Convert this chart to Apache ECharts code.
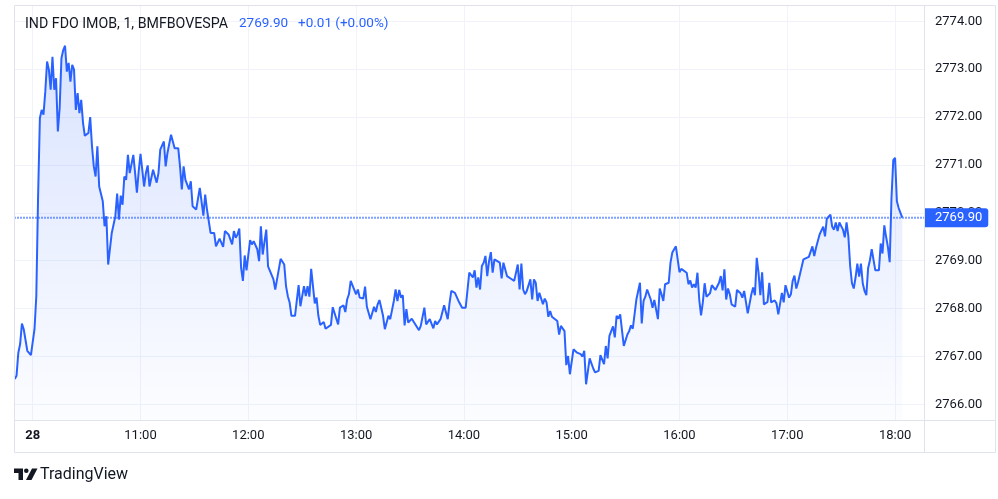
<!DOCTYPE html>
<html>
<head>
<meta charset="utf-8">
<script src="https://cdn.jsdelivr.net/npm/echarts@6.0.0/dist/echarts.min.js"></script>
<style>
html,body{margin:0;padding:0;background:#ffffff;}
#chart{width:998px;height:499px;}
</style>
</head>
<body>
<div id="chart"></div>
<script>
// minutes since midnight (1-minute bars, 28th)
const minutes = [
590,591,592,593,594,595,597,599,601,602,603,604,605,606,607,608,609,610,611,612,
613,614,615,616,617,618,619,620,621,622,623,624,625,626,627,628,629,631,632,633,
634,635,636,637,639,640,641,642,644,646,647,648,649,650,651,652,653,654,656,657,
658,659,660,662,663,664,665,666,667,669,670,671,673,674,675,676,677,679,681,682,
683,684,685,687,688,689,691,693,695,696,697,699,701,702,703,704,705,706,707,709,
711,712,713,714,715,716,717,718,719,721,722,723,725,726,727,728,730,731,732,734,
735,736,737,738,740,741,742,743,744,746,747,748,749,750,751,752,753,754,755,756,
757,758,759,760,761,762,763,766,767,768,770,771,773,774,775,776,777,778,780,781,
782,784,785,786,787,788,790,791,792,793,795,796,798,799,801,802,803,804,805,806,
807,808,809,811,813,815,816,818,819,820,821,823,824,825,827,828,829,831,832,833,
835,837,839,841,843,844,845,846,847,848,849,850,851,852,853,854,855,856,857,858,
860,861,862,863,864,866,867,868,870,871,872,873,874,875,877,878,879,880,881,882,
884,885,886,887,888,889,890,892,893,894,896,897,898,899,901,902,903,905,906,907,
908,910,911,912,913,915,916,918,919,920,921,923,924,925,926,927,928,929,931,932,
933,934,936,937,938,939,940,941,942,944,945,946,948,949,950,951,952,954,955,956,
957,958,959,960,961,962,964,965,966,967,968,969,970,971,972,973,974,975,976,977,
978,980,981,982,983,984,985,986,987,988,989,991,992,994,995,996,997,998,1000,1001,
1002,1003,1004,1005,1006,1007,1009,1010,1011,1013,1014,1015,1017,1018,1019,1021,1022,1023,1024,1025,
1026,1027,1029,1030,1032,1033,1034,1035,1036,1037,1038,1039,1040,1041,1042,1044,1045,1046,1047,1048,
1049,1050,1051,1052,1053,1054,1055,1056,1057,1058,1059,1060,1061,1062,1063,1064,1065,1066,1067,1068,
1069,1071,1072,1073,1074,1075,1076,1077,1078,1079,1080,1081,1082,1083,1084
];
const prices = [
2766.53,2766.60,2767.08,2767.26,2767.69,2767.57,2767.12,2767.03,2767.57,2768.26,2770.35,2771.98,2772.15,2772.05,2772.53,2773.16,2772.99,2772.57,2773.26,2772.57,
2772.81,2771.70,2772.19,2773.23,2773.40,2773.49,2772.95,2773.13,2772.74,2773.09,2772.99,2772.15,2772.50,2772.08,2772.36,2771.88,2771.61,2771.67,2772.00,2771.39,
2770.97,2770.76,2771.39,2770.55,2770.24,2769.72,2769.93,2768.92,2769.58,2769.93,2770.40,2769.86,2770.36,2770.17,2770.76,2770.69,2771.21,2770.83,2771.21,2770.83,
2770.42,2770.87,2771.23,2770.55,2770.83,2770.99,2770.55,2770.59,2770.90,2770.63,2770.83,2771.32,2771.49,2770.97,2771.25,2771.21,2771.63,2771.35,2771.35,2770.97,
2770.49,2770.97,2770.69,2770.49,2770.66,2770.14,2770.07,2770.52,2769.94,2770.38,2770.07,2769.58,2769.58,2769.30,2769.34,2769.46,2769.46,2769.29,2769.62,2769.55,
2769.34,2769.62,2769.48,2769.55,2769.67,2768.85,2768.58,2769.11,2768.80,2769.43,2769.34,2769.41,2769.24,2768.99,2769.72,2769.13,2769.65,2768.88,2768.88,2768.61,
2768.40,2768.61,2768.60,2769.04,2768.92,2768.47,2768.26,2768.13,2767.85,2767.85,2767.85,2768.49,2768.05,2768.26,2768.47,2768.26,2768.47,2768.25,2768.83,2768.82,
2768.11,2768.23,2767.85,2767.66,2767.67,2767.72,2767.58,2767.66,2768.03,2768.03,2767.67,2768.02,2768.07,2767.93,2768.19,2768.30,2768.58,2768.60,2768.30,2768.40,
2768.23,2768.21,2768.46,2768.04,2768.04,2767.78,2768.04,2767.93,2768.09,2768.18,2767.85,2767.57,2767.85,2767.78,2768.16,2768.40,2768.16,2768.39,2768.23,2768.28,
2767.65,2767.99,2767.71,2767.79,2767.67,2767.55,2767.64,2768.02,2767.67,2767.63,2767.78,2767.59,2767.74,2767.67,2767.78,2767.79,2768.07,2767.78,2768.11,2768.37,
2768.33,2768.16,2768.02,2768.02,2768.75,2768.76,2768.65,2768.80,2768.44,2768.65,2768.40,2768.89,2768.96,2769.10,2768.68,2768.99,2769.18,2768.75,2769.03,2769.06,
2768.96,2768.63,2768.96,2768.96,2768.68,2768.63,2768.61,2768.58,2768.92,2768.40,2768.94,2768.40,2768.30,2768.37,2768.61,2768.19,2768.61,2768.54,2768.16,2768.33,
2768.09,2768.21,2768.13,2767.83,2767.95,2767.83,2767.81,2767.74,2767.46,2767.64,2767.53,2766.82,2767.01,2766.63,2767.15,2767.12,2767.08,2767.05,2767.00,2767.12,
2766.42,2766.96,2767.00,2766.75,2766.67,2766.70,2767.03,2766.84,2767.22,2766.96,2767.43,2767.63,2767.40,2767.85,2767.79,2767.88,2767.92,2767.22,2767.46,2767.53,
2767.65,2767.58,2768.19,2768.23,2768.54,2767.69,2768.16,2768.25,2768.40,2768.19,2768.02,2768.18,2767.78,2768.42,2768.30,2768.16,2768.51,2768.54,2768.96,2769.17,
2769.15,2769.30,2769.03,2768.76,2768.83,2768.83,2768.75,2768.51,2768.59,2768.44,2768.51,2768.44,2768.75,2768.19,2767.86,2768.13,2768.53,2768.25,2768.21,2768.32,
2768.49,2768.39,2768.35,2768.54,2768.68,2768.38,2768.82,2768.19,2768.42,2768.30,2768.09,2768.04,2768.39,2768.32,2768.23,2768.37,2768.35,2767.90,2768.30,2768.44,
2768.28,2769.06,2768.75,2768.28,2768.76,2768.09,2768.14,2768.54,2768.13,2768.17,2768.11,2767.88,2768.33,2768.13,2768.49,2768.23,2768.30,2768.58,2768.69,2768.42,
2768.55,2768.51,2769.03,2769.06,2769.08,2769.06,2769.30,2769.10,2769.27,2769.41,2769.55,2769.51,2769.71,2769.51,2769.88,2769.96,2769.71,2769.65,2769.80,2769.62,
2769.80,2769.83,2769.65,2769.49,2769.80,2769.51,2768.89,2768.53,2768.42,2768.65,2768.94,2768.67,2768.94,2768.53,2768.37,2768.28,2768.85,2769.01,2769.24,2769.20,
2768.80,2768.80,2769.36,2769.15,2769.74,2769.50,2769.29,2768.97,2770.31,2771.10,2771.15,2770.24,2770.10,2770.08,2769.90
];
const xTickMinutes = [600, 660, 720, 780, 840, 900, 960, 1020, 1080];
const xTickLabels = ['28', '11:00', '12:00', '13:00', '14:00', '15:00', '16:00', '17:00', '18:00'];
const yTicks = [2766, 2767, 2768, 2769, 2770, 2771, 2772, 2773, 2774];
const lastPrice = 2769.90;
const titleText = 'IND FDO IMOB, 1, BMFBOVESPA';
const changeText = '+0.01 (+0.00%)';

const FONT = 'Roboto, "Noto Sans", "DejaVu Sans", sans-serif';
const TEXT = '#131722';
const BLUE = '#2962ff';
const BORDER = '#e0e3eb';
const GRIDC = '#f0f3fa';
const X_MIN = 589.59, X_MAX = 1096.1;

const chart = echarts.init(document.getElementById('chart'), null, {renderer: 'canvas'});
const option = {
  animation: false,
  backgroundColor: '#ffffff',
  color: [BLUE],
  grid: {left: 14, right: 74, top: 5, bottom: 78.3, containLabel: false},
  xAxis: {
    type: 'value',
    min: X_MIN,
    max: X_MAX,
    axisLine: {show: false},
    axisTick: {show: false, customValues: xTickMinutes},
    axisLabel: {
      customValues: xTickMinutes,
      margin: 9,
      color: TEXT,
      fontSize: 13,
      fontFamily: FONT,
      formatter: function (v) {
        const i = xTickMinutes.indexOf(v);
        if (i === 0) return '{b|' + xTickLabels[0] + '}';
        return i >= 0 ? xTickLabels[i] : '';
      },
      rich: {b: {fontWeight: 'bold', fontSize: 13, color: TEXT, fontFamily: FONT}}
    },
    splitLine: {show: true, lineStyle: {color: GRIDC, width: 1}}
  },
  yAxis: {
    type: 'value',
    position: 'right',
    min: 2765.66,
    max: 2774.34,
    axisLine: {show: false},
    axisTick: {show: false, customValues: yTicks},
    axisLabel: {
      customValues: yTicks,
      margin: 11,
      color: TEXT,
      fontSize: 13,
      fontFamily: FONT,
      formatter: function (v) { return v.toFixed(2); }
    },
    splitLine: {show: true, lineStyle: {color: GRIDC, width: 1}}
  },
  series: [
    {
      type: 'line',
      name: 'price',
      color: BLUE,
      z: 3,
      data: minutes.map(function (m, i) { return [m, prices[i]]; }),
      symbol: 'none',
      smooth: false,
      lineStyle: {color: BLUE, width: 2},
      areaStyle: {
        origin: 'start',
        color: new echarts.graphic.LinearGradient(0, 0, 0, 1, [
          {offset: 0, color: 'rgba(41,98,255,0.25)'},
          {offset: 1, color: 'rgba(41,98,255,0.02)'}
        ])
      },
      markLine: {
        symbol: 'none',
        silent: true,
        animation: false,
        data: [{yAxis: lastPrice}],
        lineStyle: {color: 'rgba(0,0,0,0)', width: 0},
        emphasis: {disabled: true},
        label: {
          position: 'end',
          distance: 0,
          formatter: lastPrice.toFixed(2),
          color: '#ffffff',
          backgroundColor: BLUE,
          padding: [3, 6, 3, 11],
          borderRadius: [0, 3, 3, 0],
          fontSize: 13,
          fontFamily: FONT
        }
      }
    },
    {
      type: 'line',
      name: 'last',
      z: 4,
      silent: true,
      symbol: 'none',
      data: [[X_MIN, lastPrice], [X_MAX, lastPrice]],
      lineStyle: {color: 'rgba(41,98,255,0.6)', width: 2, type: [2, 1]},
      itemStyle: {color: BLUE}
    }
  ],
  graphic: [
    {type: 'rect', z: 50, silent: true, shape: {x: 14.5, y: 5.5, width: 981, height: 447},
     style: {fill: 'none', stroke: BORDER, lineWidth: 1}},
    {type: 'line', z: 50, silent: true, shape: {x1: 14, y1: 420.5, x2: 996, y2: 420.5},
     style: {stroke: BORDER, lineWidth: 1}},
    {type: 'line', z: 50, silent: true, shape: {x1: 924.5, y1: 5, x2: 924.5, y2: 453},
     style: {stroke: BORDER, lineWidth: 1}},
    {type: 'text', z: 60, silent: true, x: 25, y: 24,
     style: {text: titleText, fill: TEXT, font: '14.2px ' + FONT, verticalAlign: 'middle', align: 'left'}},
    {type: 'text', z: 60, silent: true, x: 239, y: 24,
     style: {text: lastPrice.toFixed(2), fill: BLUE, font: '13.5px ' + FONT, verticalAlign: 'middle', align: 'left'}},
    {type: 'text', z: 60, silent: true, x: 298, y: 24,
     style: {text: changeText, fill: BLUE, font: '13.5px ' + FONT, verticalAlign: 'middle', align: 'left'}},
    {type: 'polygon', z: 60, silent: true,
     shape: {points: [[14, 468.5], [23, 468.5], [23, 480], [18.5, 480], [18.5, 473], [14, 473]]},
     style: {fill: TEXT}},
    {type: 'circle', z: 60, silent: true, shape: {cx: 26.3, cy: 470.8, r: 2.3}, style: {fill: TEXT}},
    {type: 'polygon', z: 60, silent: true,
     shape: {points: [[32, 468.5], [37.5, 468.5], [31.5, 480], [26, 480]]},
     style: {fill: TEXT}},
    {type: 'text', z: 60, silent: true, x: 40, y: 475,
     style: {text: 'TradingView', fill: TEXT, font: '16px ' + FONT, verticalAlign: 'middle', align: 'left'}}
  ]
};
chart.setOption(option);
</script>
</body>
</html>
